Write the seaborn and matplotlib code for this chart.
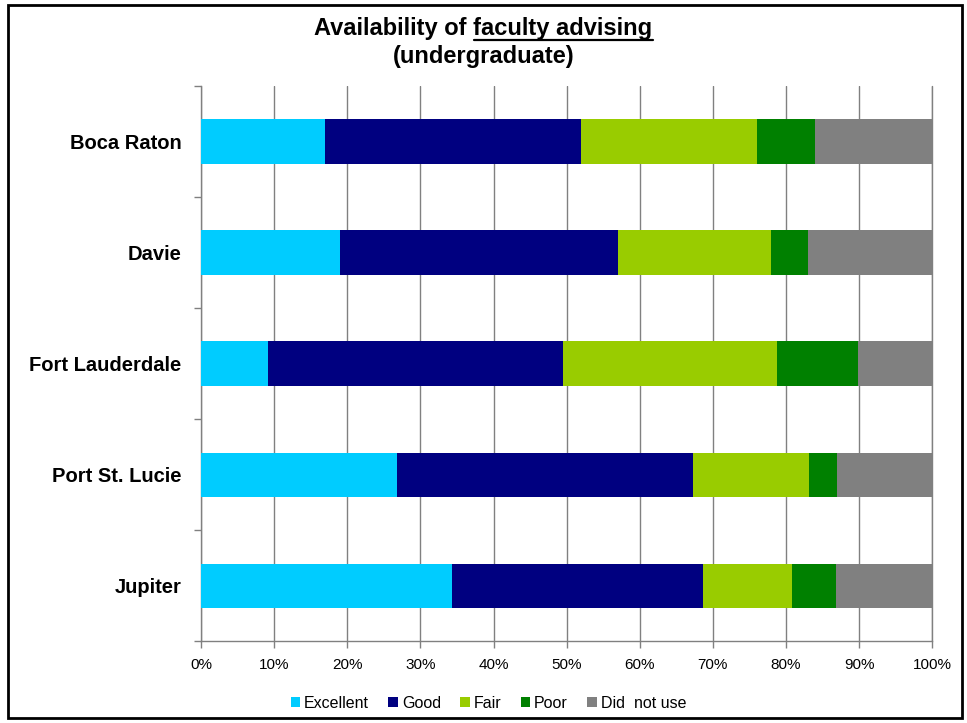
import matplotlib
matplotlib.use("Agg")
import matplotlib.pyplot as plt
import seaborn as sns
import pandas as pd
import numpy as np
from matplotlib.patches import Rectangle, Patch
from matplotlib.lines import Line2D

campuses = ["Boca Raton", "Davie", "Fort Lauderdale", "Port St. Lucie", "Jupiter"]
series = ["Excellent", "Good", "Fair", "Poor", "Did  not use"]
excellent = [17.0, 19.0, 9.2, 26.8, 34.3]
good = [35.0, 38.0, 40.3, 40.5, 34.4]
fair = [24.0, 21.0, 29.3, 15.9, 12.1]
poor = [8.0, 5.0, 11.1, 3.8, 6.1]
did_not_use = [16.0, 17.0, 10.1, 13.0, 13.1]
colors = ["#00CCFF", "#000080", "#99CC00", "#008000", "#808080"]
xtick_labels = ["0%", "10%", "20%", "30%", "40%", "50%", "60%", "70%", "80%", "90%", "100%"]

sns.set_style("white")
plt.rcParams["font.family"] = ["Liberation Sans", "DejaVu Sans"]
plt.rcParams["text.color"] = "black"
plt.rcParams["xtick.color"] = "#808080"
plt.rcParams["ytick.color"] = "#808080"
plt.rcParams["xtick.labelcolor"] = "black"
plt.rcParams["ytick.labelcolor"] = "black"

fig = plt.figure(figsize=(9.67, 7.23), dpi=100)
ax = fig.add_axes([0.208, 0.113, 0.756, 0.768])

vals = [excellent, good, fair, poor, did_not_use]
cum = np.cumsum(np.array(vals), axis=0)
for i in range(len(series) - 1, -1, -1):
    df = pd.DataFrame({"campus": campuses, "value": cum[i]})
    sns.barplot(data=df, y="campus", x="value", orient="h", color=colors[i],
                width=0.4, ax=ax, saturation=1, edgecolor="none", linewidth=0,
                zorder=3)

ax.set_xlim(0, 100)
ax.set_ylim(len(campuses) - 0.5, -0.5)
ax.set_xticks(np.arange(0, 101, 10))
ax.set_xticklabels(xtick_labels, fontsize=11)
ax.set_xlabel("")
ax.set_ylabel("")
ax.grid(axis="x", color="#808080", linewidth=1, zorder=0)
ax.axvline(100, color="#808080", linewidth=1, clip_on=False, zorder=0)
ax.set_axisbelow(True)
for s in ["top", "right"]:
    ax.spines[s].set_visible(False)
for s in ["left", "bottom"]:
    ax.spines[s].set_color("#808080")
    ax.spines[s].set_linewidth(1)

ax.set_yticks(range(len(campuses)))
ax.set_yticklabels(campuses, fontsize=14.5, fontweight="bold")
ax.tick_params(axis="y", which="major", left=True, length=0, pad=14)
ax.set_yticks(np.arange(-0.5, len(campuses), 1), minor=True)
ax.tick_params(axis="y", which="minor", left=True, length=5, color="#808080", width=1)
ax.tick_params(axis="x", bottom=True, length=5, color="#808080", width=1, pad=7)

fig.text(0.5, 1 - 29 / 723, "Availability of faculty advising", ha="center", va="center",
         fontsize=17, fontweight="bold")
fig.text(0.5, 1 - 56 / 723, "(undergraduate)", ha="center", va="center",
         fontsize=17, fontweight="bold")
fig.canvas.draw()
r = fig.canvas.get_renderer()
full = fig.texts[0].get_window_extent(r)
probe = fig.text(0, 0, "Availability of ", fontsize=17, fontweight="bold")
w1 = probe.get_window_extent(r).width
probe.remove()
x0 = (full.x0 + w1) / fig.bbox.width
x1 = full.x1 / fig.bbox.width
yl = 1 - 40 / 723
fig.add_artist(Line2D([x0, x1], [yl, yl], color="black", linewidth=1.6,
                      transform=fig.transFigure))

handles = [Patch(facecolor=c, edgecolor="none") for c in colors]
fig.legend(handles, series, loc="center", bbox_to_anchor=(0.505, 1 - 703 / 723),
           ncol=5, frameon=False, fontsize=11.5, handlelength=0.6, handleheight=0.6,
           handletextpad=0.25, columnspacing=1.2)

fig.add_artist(Rectangle((8 / 967, 5 / 723), 954 / 967, 713 / 723, fill=False,
                         edgecolor="black", linewidth=2, transform=fig.transFigure))

fig.savefig("out.png", dpi=100)
